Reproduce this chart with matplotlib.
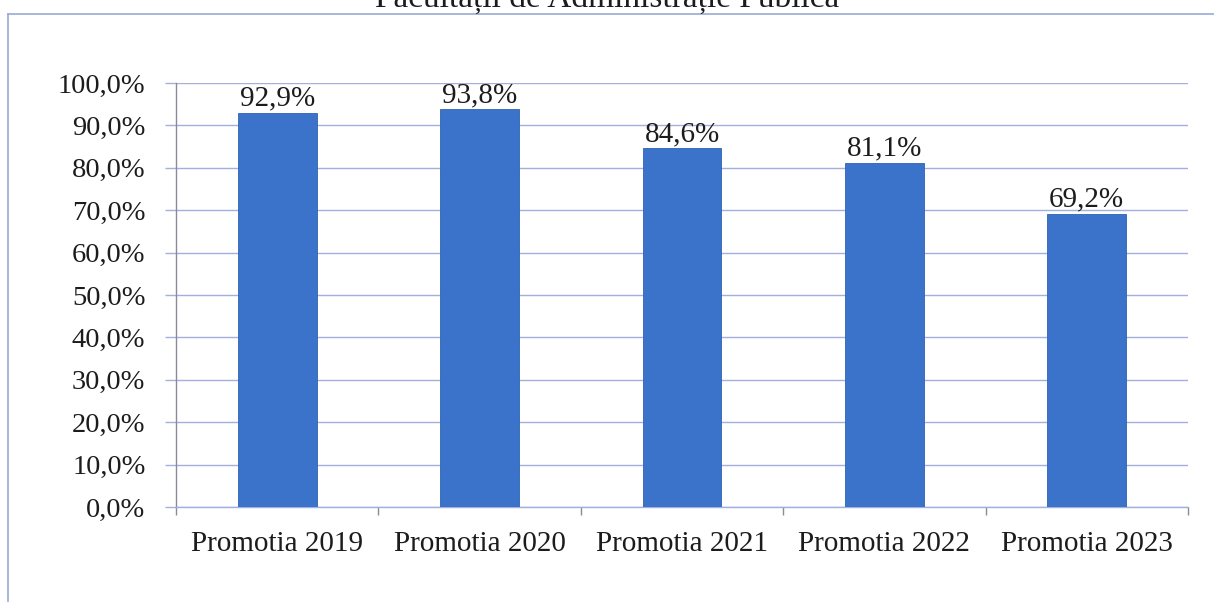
import numpy as np
import matplotlib.pyplot as plt
from matplotlib.ticker import FuncFormatter, MultipleLocator, FixedLocator
from matplotlib.lines import Line2D

categories = ['Promotia 2019', 'Promotia 2020', 'Promotia 2021', 'Promotia 2022', 'Promotia 2023']
values = [92.9, 93.8, 84.6, 81.1, 69.2]
title = 'Facultății de Administrație Publică'

plt.rcParams['font.family'] = ['Liberation Serif', 'DejaVu Serif']

W, H = 1214, 602
fig = plt.figure(figsize=(W / 100, H / 100), dpi=100)
ax = fig.add_axes([176 / W, 1 - 507 / H, (1188 - 176) / W, (507 - 83) / H])

bar_color = '#3a73c9'
grid_color = '#a3afdc'
axis_color = '#8a8a9a'
text_color = '#1c1c1c'

x = np.arange(len(categories))
bars = ax.bar(x, values, width=0.39, color=bar_color, edgecolor='#2e63b3', linewidth=0.6, zorder=3)

for b, v in zip(bars, values):
    ax.text(b.get_x() + b.get_width() / 2, v + 0.3, f'{v:.1f}'.replace('.', ',') + '%',
            ha='center', va='bottom', fontsize=21, color=text_color, zorder=4)

ax.set_xlim(-0.5, len(categories) - 0.5)
ax.set_ylim(0, 100)
ax.yaxis.set_major_locator(MultipleLocator(10))
ax.yaxis.set_major_formatter(FuncFormatter(lambda v, p: f'{v:.1f}'.replace('.', ',') + '%'))
ax.grid(axis='y', color=grid_color, linewidth=1.0, zorder=0)

ax.set_xticks(x)
ax.set_xticklabels(categories)
ax.xaxis.set_minor_locator(FixedLocator(np.arange(-0.5, len(categories), 1.0)))
ax.tick_params(axis='x', which='major', length=0, pad=17, labelsize=21, labelcolor=text_color)
ax.tick_params(axis='x', which='minor', length=6, color=axis_color, width=1)
ax.tick_params(axis='y', length=8, pad=14, labelsize=20.5, labelcolor=text_color,
               color=grid_color, width=1)

for s in ['top', 'right']:
    ax.spines[s].set_visible(False)
ax.spines['left'].set_color(axis_color)
ax.spines['bottom'].set_color(grid_color)
ax.spines['left'].set_linewidth(1)
ax.spines['bottom'].set_linewidth(1)

# outer chart frame (only top and left edges fall inside the picture)
fig.add_artist(Line2D([8 / W, 1.0], [1 - 14 / H, 1 - 14 / H], color='#9aaad8', linewidth=1.2))
fig.add_artist(Line2D([8 / W, 8 / W], [0.0, 1 - 14 / H], color='#9aaad8', linewidth=1.2))

# title is cut by the top edge of the picture, as in the original
fig.text(0.5, 1 - 7 / H, title, ha='center', va='baseline', fontsize=24, color=text_color)

fig.savefig('out.png', dpi=100, facecolor='white')
